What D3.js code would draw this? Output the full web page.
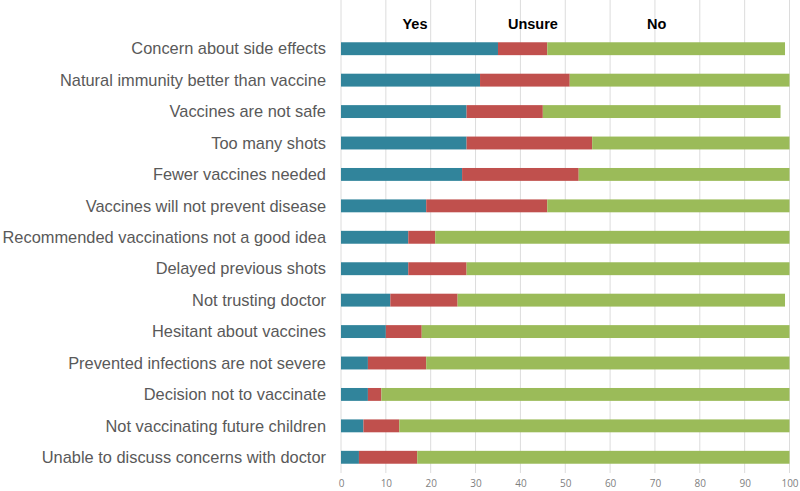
<!DOCTYPE html>
<html>
<head>
<meta charset="utf-8">
<script src="https://cdn.jsdelivr.net/npm/d3@7"></script>
<style>
  body { margin: 0; background: #fff; }
  svg { display: block; }
</style>
</head>
<body>
<svg id="chart" width="800" height="491"></svg>
<script>
const categories = [
  "Concern about side effects",
  "Natural immunity better than vaccine",
  "Vaccines are not safe",
  "Too many shots",
  "Fewer vaccines needed",
  "Vaccines will not prevent disease",
  "Recommended vaccinations not a good idea",
  "Delayed previous shots",
  "Not trusting doctor",
  "Hesitant about vaccines",
  "Prevented infections are not severe",
  "Decision not to vaccinate",
  "Not vaccinating future children",
  "Unable to discuss concerns with doctor"
];
const yesValues    = [35, 31, 28, 28, 27, 19, 15, 15, 11, 10, 6, 6, 5, 4];
const unsureValues = [11, 20, 17, 28, 26, 27, 6, 13, 15, 8, 13, 3, 8, 13];
const noValues     = [53, 49, 53, 44, 47, 54, 79, 72, 73, 82, 81, 91, 87, 83];
const seriesNames  = ["Yes", "Unsure", "No"];
const seriesColors = ["#31849B", "#C0504D", "#9BBB59"];
const xTicks = [0, 10, 20, 30, 40, 50, 60, 70, 80, 90, 100];

(function () {
const svg = d3.select("#chart");
const mLeft = 341, mRight = 789.5, mTop = 33, mBottom = 473;

const x = d3.scaleLinear().domain([0, 100]).range([mLeft, mRight]);
const y = d3.scaleBand().domain(categories).range([mTop, mBottom]).paddingInner(0.59).paddingOuter(0.295);

svg.append("g").selectAll("line").data(xTicks).join("line")
  .attr("x1", d => x(d)).attr("x2", d => x(d))
  .attr("y1", 0).attr("y2", mBottom)
  .attr("stroke", "#dcdcdc").attr("stroke-width", 1);

const rows = categories.map((c, i) => ({cat: c, Yes: yesValues[i], Unsure: unsureValues[i], No: noValues[i]}));
const stack = d3.stack().keys(seriesNames)(rows);

svg.append("g").selectAll("g").data(stack).join("g")
  .attr("fill", (d, i) => seriesColors[i])
  .selectAll("rect").data(d => d).join("rect")
  .attr("x", d => x(d[0]))
  .attr("width", d => x(d[1]) - x(d[0]))
  .attr("y", d => y(d.data.cat))
  .attr("height", y.bandwidth());

svg.append("g").selectAll("text").data(categories).join("text")
  .attr("x", 326)
  .attr("y", d => y(d) + y.bandwidth() / 2)
  .attr("dy", "0.35em")
  .attr("text-anchor", "end")
  .attr("font-family", "Liberation Sans, Arial, sans-serif")
  .attr("font-size", 16.4)
  .attr("fill", "#595959")
  .text(d => d);

const xAxis = d3.axisBottom(x).tickValues(xTicks).tickSize(0).tickPadding(0);
const ax = svg.append("g").attr("transform", `translate(0, ${mBottom + 7})`).call(xAxis);
ax.select(".domain").remove();
ax.selectAll("text")
  .attr("font-family", "Open Sans, sans-serif")
  .attr("font-size", 10)
  .attr("fill", "#7f7f7f");

const headerX = [16.5, 42.8, 70.4];
svg.append("g").selectAll("text").data(seriesNames).join("text")
  .attr("x", (d, i) => x(headerX[i]))
  .attr("y", 29)
  .attr("text-anchor", "middle")
  .attr("font-family", "Liberation Sans, Arial, sans-serif")
  .attr("font-weight", "bold")
  .attr("font-size", 14.5)
  .attr("fill", "#000")
  .text(d => d);
})();
</script>
</body>
</html>
